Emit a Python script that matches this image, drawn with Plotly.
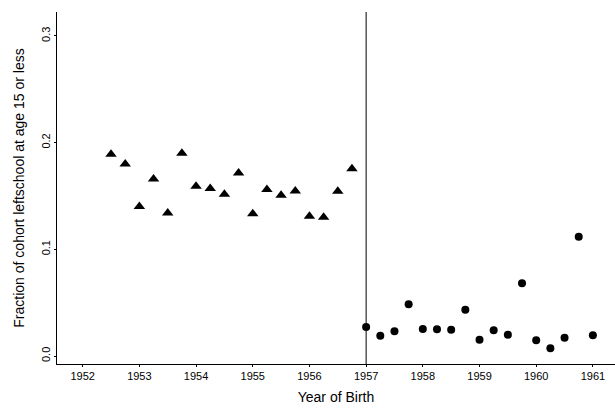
import plotly.graph_objects as go

# Pre-1957 cohorts (triangles)
years_before = [1952.5, 1952.75, 1953.0, 1953.25, 1953.5, 1953.75, 1954.0, 1954.25, 1954.5,
                1954.75, 1955.0, 1955.25, 1955.5, 1955.75, 1956.0, 1956.25, 1956.5, 1956.75]
frac_before = [0.189, 0.180, 0.140, 0.166, 0.134, 0.190, 0.159, 0.157, 0.1515,
               0.1715, 0.1334, 0.156, 0.1506, 0.1546, 0.131, 0.130, 0.1544, 0.1755]

# 1957 onwards cohorts (circles)
years_after = [1957.0, 1957.25, 1957.5, 1957.75, 1958.0, 1958.25, 1958.5, 1958.75, 1959.0,
               1959.25, 1959.5, 1959.75, 1960.0, 1960.25, 1960.5, 1960.75, 1961.0]
frac_after = [0.0272, 0.0190, 0.0231, 0.0485, 0.0253, 0.0250, 0.0246, 0.0434, 0.0153,
              0.0241, 0.0200, 0.0681, 0.0147, 0.0072, 0.0172, 0.1118, 0.0194]

cutoff_year = 1957
x_ticks = [1952, 1953, 1954, 1955, 1956, 1957, 1958, 1959, 1960, 1961]
y_ticks = [0.0, 0.1, 0.2, 0.3]
y_tick_labels = ["0.0", "0.1", "0.2", "0.3"]

fig = go.Figure()
fig.add_trace(go.Scatter(x=years_before, y=frac_before, mode="markers",
                         marker=dict(symbol="triangle-up", size=10, color="black"),
                         showlegend=False))
fig.add_trace(go.Scatter(x=years_after, y=frac_after, mode="markers",
                         marker=dict(symbol="circle", size=8, color="black"),
                         showlegend=False))

fig.add_shape(type="line", xref="x", yref="paper", x0=cutoff_year, x1=cutoff_year,
              y0=0, y1=1, line=dict(color="black", width=1))

font_family = "Liberation Sans, Arial, sans-serif"
fig.update_layout(
    width=615, height=409,
    margin=dict(l=57, r=0, t=12, b=45),
    plot_bgcolor="white", paper_bgcolor="white",
    font=dict(family=font_family, color="black"),
    xaxis=dict(range=[1951.547, 1961.39], tickvals=x_ticks, showgrid=False, zeroline=False,
               showline=True, linecolor="black", linewidth=1, ticks="outside", ticklen=2,
               tickcolor="black", tickfont=dict(size=11),
               title=dict(text="Year of Birth", font=dict(size=14), standoff=10)),
    yaxis=dict(range=[-0.0075, 0.3224], tickvals=y_ticks, ticktext=y_tick_labels,
               showgrid=False, zeroline=False, showline=True, linecolor="black", linewidth=1,
               ticks="outside", ticklen=2, tickcolor="black", tickangle=-90,
               tickfont=dict(size=11),
               title=dict(text="Fraction of cohort leftschool at age 15 or less",
                          font=dict(size=14), standoff=11)),
)

fig.write_html("out.html", config={"displayModeBar": False},
               post_script="document.body.style.margin='0';document.body.style.padding='0';")
